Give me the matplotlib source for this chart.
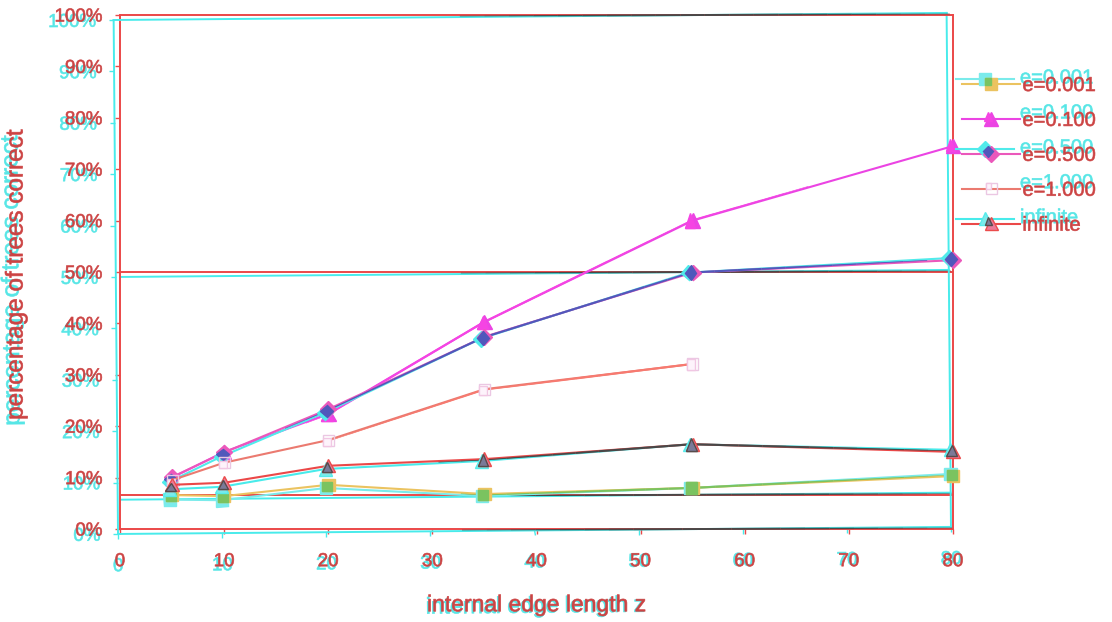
import numpy as np
import matplotlib
matplotlib.use("Agg")
import matplotlib.pyplot as plt
import matplotlib.patheffects as pe
from matplotlib.path import Path
from matplotlib.ticker import FuncFormatter
from matplotlib.transforms import Affine2D, IdentityTransform

plt.rcParams['font.family'] = ['Liberation Sans', 'DejaVu Sans']

# ---------------------------------------------------------------- data
z_values = [5, 10, 20, 35, 55, 80]
z_values_e1000 = [5, 10, 20, 35, 55]
pct_e0001 = [6.6, 6.4, 8.6, 6.8, 8.0, 10.3]
pct_e0100 = [10.0, 15.0, 22.4, 40.3, 60.0, 74.5]
pct_e0500 = [10.1, 14.9, 23.3, 37.4, 49.9, 52.3]
pct_e1000 = [9.5, 12.9, 17.3, 27.2, 32.1]
pct_infinite = [8.6, 9.0, 12.3, 13.6, 16.5, 15.0]
series_labels = ['e=0.001', 'e=0.100', 'e=0.500', 'e=1.000', 'infinite']
reference_levels = [100 / 15, 50]
x_ticks = [0, 10, 20, 30, 40, 50, 60, 70, 80]
y_ticks = [0, 10, 20, 30, 40, 50, 60, 70, 80, 90, 100]
x_label = 'internal edge length z'
y_label = 'percentage of trees correct'

DPI = 100
INK = (0.08, 0.08, 0.08)


# ------------------------------------------- mis-registered colour plates
class Plate(pe.AbstractPathEffect):
    """Redraw a path through one printing plate.

    'cyan' keeps only the red channel (moved by `shift`), 'red' keeps the
    green/blue channels in place, 'full' paints the true colour where the
    two plates overlap.
    """

    def __init__(self, kind, shift=None, hi=0.92, lo=0.22, red_hi=None,
                 stroke=0.0):
        super().__init__()
        self.kind = kind
        self.shift = shift if shift is not None else Affine2D()
        self.hi = hi
        self.lo = lo
        self.red_hi = red_hi if red_hi is not None else hi
        self.stroke = stroke

    def _tone(self, c):
        if c is None:
            return None
        c = tuple(c)
        a = c[3] if len(c) == 4 else 1.0
        if a == 0:
            return None
        r, g, b = [self.lo + (1 - self.lo) * v for v in c[:3]]
        if self.kind == 'cyan':
            if c[0] > 0.85:
                return None
            return (r, self.hi, self.hi, a)
        if self.kind == 'red':
            if c[1] > 0.93 and c[2] > 0.93:
                return None
            return (self.red_hi, g, b, a)
        return (r, g, b, a)

    def _overlap_line(self, renderer, gc, tpath, affine):
        col = self._tone(gc.get_rgb())
        px_per_pt = renderer.points_to_pixels(1.0)
        lw_px = gc.get_linewidth() * px_per_pt
        if col is None or lw_px <= 0:
            return
        verts = affine.transform(tpath.vertices)
        gc0 = renderer.new_gc()
        gc0.copy_properties(gc)
        gc0.set_foreground(col)
        gc0.set_capstyle('butt')
        for i in range(len(verts) - 1):
            p0, p1 = verts[i], verts[i + 1]
            seg = p1 - p0
            length = np.hypot(*seg)
            if length < 8:
                continue
            u = seg / length
            n = int(np.ceil(length / 25))
            for k in range(n):
                a = p0 + seg * (k / n)
                b = p0 + seg * ((k + 1) / n)
                mid = (a + b) / 2
                d = self.shift.transform(mid) - mid
                perp = abs(d[0] * u[1] - d[1] * u[0])
                width = min(lw_px, lw_px + 0.6 - perp)
                if width < 0.5:
                    continue
                qa = (a + self.shift.transform(a)) / 2
                qb = (b + self.shift.transform(b)) / 2
                gc0.set_linewidth(width / px_per_pt)
                renderer.draw_path(gc0, Path([qa, qb]), IdentityTransform(), None)
        gc0.restore()

    def draw_path(self, renderer, gc, tpath, affine, rgbFace=None):
        trans = affine + self.shift
        if self.kind == 'full':
            if rgbFace is None:
                self._overlap_line(renderer, gc, tpath, affine)
                return
            ext = tpath.get_extents(affine)
            if ext.width < 4 or ext.height < 4:
                return
            cx, cy = (ext.x0 + ext.x1) / 2, (ext.y0 + ext.y1) / 2
            px, py = self.shift.transform((cx, cy))
            sx = max(0.05, 1 - abs(px - cx) / ext.width)
            sy = max(0.05, 1 - abs(py - cy) / ext.height)
            trans = affine + Affine2D().translate(-cx, -cy).scale(sx, sy).translate(
                (cx + px) / 2, (cy + py) / 2)
        edge = self._tone(gc.get_rgb()) if gc.get_linewidth() > 0 else None
        face = self._tone(rgbFace)
        if edge is None and face is None:
            return
        gc0 = renderer.new_gc()
        gc0.copy_properties(gc)
        if self.stroke and face is not None:
            gc0.set_linewidth(self.stroke)
            gc0.set_foreground(face)
            gc0.set_joinstyle('round')
        elif edge is None:
            gc0.set_linewidth(0)
        else:
            gc0.set_foreground(edge)
        renderer.draw_path(gc0, tpath, trans, face)
        gc0.restore()


CYAN_SHIFT = Affine2D().rotate(0.0085).translate(-1.2, -6.0)
LEGEND_LINE_SHIFT = Affine2D().translate(-6.0, 5.0)
LEGEND_TEXT_SHIFT = Affine2D().translate(-2.5, 7.5)


def line_fx(shift):
    return [Plate('cyan', shift), Plate('red', None), Plate('full', shift)]


def text_fx(shift):
    return [Plate('cyan', shift, hi=0.9, lo=0.28, stroke=0.45),
            Plate('red', None, lo=0.2, red_hi=0.8, stroke=0.45)]


# ---------------------------------------------------------------- figure
fig = plt.figure(figsize=(11.12, 6.22), dpi=DPI, facecolor='white')
ax = fig.add_axes([120 / 1112, 93 / 622, 833 / 1112, 514 / 622])
ax.set_facecolor('none')

for lvl in reference_levels:
    ax.axhline(lvl, color=INK, lw=1.4, zorder=1, path_effects=line_fx(CYAN_SHIFT))

series = [
    (z_values, pct_e0001, dict(color=(0.33, 0.70, 0.20), marker='s', ms=9,
                               mfc=(0.33, 0.70, 0.20), mec=(0.33, 0.70, 0.20))),
    (z_values, pct_e0100, dict(color=(0.95, 0.06, 0.86), marker='^', ms=10.5,
                               mfc=(0.95, 0.06, 0.86), mec=(0.95, 0.06, 0.86))),
    (z_values, pct_e0500, dict(color=(0.12, 0.16, 0.66), marker='D', ms=8,
                               mfc=(0.12, 0.16, 0.66), mec=(0.12, 0.16, 0.66))),
    (z_values_e1000, pct_e1000, dict(color=(0.96, 0.33, 0.28), marker='s', ms=8,
                                     mfc=(0.99, 0.94, 0.98), mec=(0.93, 0.72, 0.86))),
    (z_values, pct_infinite, dict(color=INK, marker='^', ms=9.5,
                                  mfc=(0.33, 0.33, 0.48), mec=(0.15, 0.1, 0.1))),
]

handles = []
for (xs, ys, style), lab in zip(series, series_labels):
    ln, = ax.plot(xs, ys, lw=1.5, mew=1.0, clip_on=False, zorder=3,
                  label=lab, path_effects=line_fx(CYAN_SHIFT), **style)
    handles.append(ln)

ax.set_xlim(0, 80)
ax.set_ylim(0, 100)
ax.set_xticks(x_ticks)
ax.set_yticks(y_ticks)
ax.yaxis.set_major_formatter(FuncFormatter(lambda v, _: f'{v:.0f}%'))
ax.tick_params(axis='both', direction='out', length=3.6, width=1.0,
               colors=INK, labelsize=13.5)
ax.tick_params(axis='x', pad=13.8)
ax.tick_params(axis='y', pad=9.0)

for sp in ax.spines.values():
    sp.set_color(INK)
    sp.set_linewidth(1.4)
    sp.set_path_effects(line_fx(CYAN_SHIFT))

for tick in ax.xaxis.get_major_ticks() + ax.yaxis.get_major_ticks():
    tick.tick1line.set_path_effects(line_fx(CYAN_SHIFT))
    tick.label1.set_path_effects(text_fx(CYAN_SHIFT))

ax.set_xlabel(x_label, fontsize=16.5, color=INK)
ax.set_ylabel(y_label, fontsize=17.5, color=INK)
ax.xaxis.set_label_coords(0.5, -0.125)
ax.yaxis.set_label_coords(-0.111, 0.494)
ax.xaxis.label.set_path_effects(text_fx(CYAN_SHIFT))
ax.yaxis.label.set_path_effects(text_fx(CYAN_SHIFT))

leg = ax.legend(handles=handles, labels=series_labels, loc='upper left',
                bbox_to_anchor=(962 / 1112, 1 - 76 / 622),
                bbox_transform=fig.transFigure, frameon=False, fontsize=14.5,
                handlelength=2.9, handletextpad=0.1, labelspacing=0.79,
                borderaxespad=0, borderpad=0)
for h in leg.legend_handles:
    h.set_path_effects(line_fx(LEGEND_LINE_SHIFT))
for t in leg.get_texts():
    t.set_color(INK)
    t.set_path_effects(text_fx(LEGEND_TEXT_SHIFT))

fig.savefig('out.png', dpi=DPI, facecolor='white')
